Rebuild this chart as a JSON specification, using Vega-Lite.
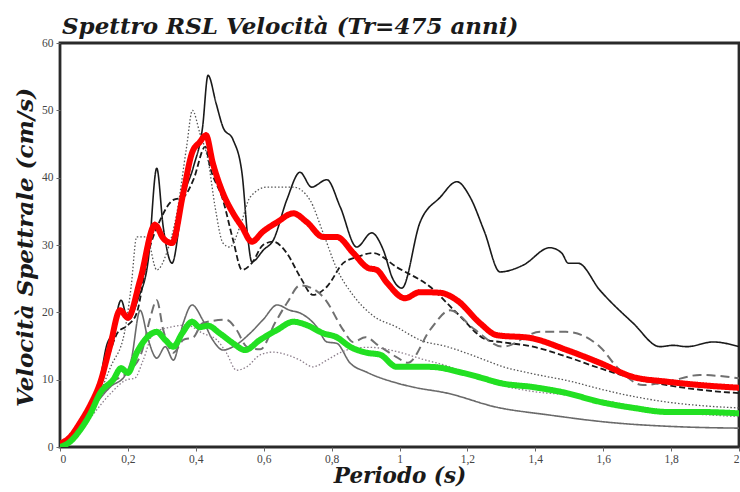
{
  "$schema": "https://vega.github.io/schema/vega-lite/v6.json",
  "autosize": {"type": "none"},
  "width": 679,
  "height": 404,
  "padding": {"left": 60, "top": 43, "right": 1, "bottom": 45},
  "background": "white",
  "title": {
    "text": "Spettro RSL Velocità (Tr=475 anni)",
    "anchor": "start",
    "frame": "group",
    "font": "DejaVu Serif",
    "fontSize": 23,
    "fontStyle": "italic",
    "fontWeight": "bold",
    "color": "#1a1a1a",
    "offset": -2,
    "dx": 2
  },
  "config": {
    "view": {"stroke": "#2a2a2a", "strokeWidth": 2.8},
    "axis": {
      "domain": false,
      "grid": false,
      "ticks": true,
      "tickColor": "#666666",
      "tickSize": 4,
      "labelFont": "Liberation Sans Narrow",
      "labelFontSize": 11.5,
      "labelColor": "#444444",
      "titleFont": "DejaVu Serif",
      "titleFontSize": 21.5,
      "titleFontStyle": "italic",
      "titleFontWeight": "bold",
      "titleColor": "#1a1a1a"
    }
  },
  "data": {
    "values": [
      {"s":"A1","x":0,"y":0},{"s":"A1","x":0.03,"y":0.8},{"s":"A1","x":0.06,"y":2.5},{"s":"A1","x":0.09,"y":5.5},{"s":"A1","x":0.118,"y":10},{"s":"A1","x":0.137,"y":15},{"s":"A1","x":0.155,"y":17},{"s":"A1","x":0.18,"y":21.8},{"s":"A1","x":0.2,"y":18.9},{"s":"A1","x":0.23,"y":22},{"s":"A1","x":0.26,"y":27.8},{"s":"A1","x":0.285,"y":41.4},{"s":"A1","x":0.304,"y":32.7},{"s":"A1","x":0.33,"y":27.3},{"s":"A1","x":0.363,"y":37},{"s":"A1","x":0.393,"y":41.6},{"s":"A1","x":0.42,"y":47.5},{"s":"A1","x":0.436,"y":55.2},{"s":"A1","x":0.46,"y":51},{"s":"A1","x":0.48,"y":47.5},{"s":"A1","x":0.51,"y":45.6},{"s":"A1","x":0.536,"y":40.7},{"s":"A1","x":0.554,"y":30.7},{"s":"A1","x":0.565,"y":27.5},{"s":"A1","x":0.6,"y":29.3},{"s":"A1","x":0.628,"y":30.7},{"s":"A1","x":0.668,"y":36.7},{"s":"A1","x":0.707,"y":40.8},{"s":"A1","x":0.741,"y":38.6},{"s":"A1","x":0.786,"y":39.7},{"s":"A1","x":0.825,"y":35.7},{"s":"A1","x":0.874,"y":29.7},{"s":"A1","x":0.918,"y":31.8},{"s":"A1","x":0.952,"y":29.3},{"s":"A1","x":0.98,"y":25},{"s":"A1","x":1.007,"y":23.6},{"s":"A1","x":1.06,"y":33.3},{"s":"A1","x":1.12,"y":37.1},{"s":"A1","x":1.169,"y":39.4},{"s":"A1","x":1.208,"y":37.1},{"s":"A1","x":1.25,"y":32},{"s":"A1","x":1.296,"y":26},{"s":"A1","x":1.364,"y":27},{"s":"A1","x":1.443,"y":29.6},{"s":"A1","x":1.478,"y":28.8},{"s":"A1","x":1.497,"y":27.3},{"s":"A1","x":1.526,"y":27.3},{"s":"A1","x":1.59,"y":23.3},{"s":"A1","x":1.688,"y":18.4},{"s":"A1","x":1.767,"y":14.9},{"s":"A1","x":1.806,"y":15.1},{"s":"A1","x":1.846,"y":14.9},{"s":"A1","x":1.924,"y":15.6},{"s":"A1","x":2.0,"y":14.9},

      {"s":"A2","x":0,"y":0},{"s":"A2","x":0.05,"y":2},{"s":"A2","x":0.1,"y":7},{"s":"A2","x":0.14,"y":13},{"s":"A2","x":0.17,"y":17},{"s":"A2","x":0.2,"y":18.1},{"s":"A2","x":0.226,"y":19.9},{"s":"A2","x":0.26,"y":28.8},{"s":"A2","x":0.295,"y":33.7},{"s":"A2","x":0.334,"y":36.7},{"s":"A2","x":0.363,"y":37.1},{"s":"A2","x":0.393,"y":39.7},{"s":"A2","x":0.428,"y":44.6},{"s":"A2","x":0.442,"y":41.6},{"s":"A2","x":0.48,"y":36.7},{"s":"A2","x":0.51,"y":30.7},{"s":"A2","x":0.536,"y":26.3},{"s":"A2","x":0.565,"y":27.3},{"s":"A2","x":0.598,"y":30},{"s":"A2","x":0.628,"y":30.5},{"s":"A2","x":0.668,"y":28.8},{"s":"A2","x":0.707,"y":25.3},{"s":"A2","x":0.745,"y":22.6},{"s":"A2","x":0.786,"y":23.8},{"s":"A2","x":0.834,"y":27.3},{"s":"A2","x":0.874,"y":28.2},{"s":"A2","x":0.922,"y":28.8},{"s":"A2","x":0.992,"y":26.7},{"s":"A2","x":1.09,"y":23.8},{"s":"A2","x":1.169,"y":19.9},{"s":"A2","x":1.258,"y":15.9},{"s":"A2","x":1.296,"y":15.6},{"s":"A2","x":1.393,"y":14.9},{"s":"A2","x":1.493,"y":13.4},{"s":"A2","x":1.59,"y":11.7},{"s":"A2","x":1.688,"y":10.2},{"s":"A2","x":1.788,"y":9.2},{"s":"A2","x":1.885,"y":8.5},{"s":"A2","x":2.0,"y":8.0},

      {"s":"A3","x":0,"y":0},{"s":"A3","x":0.05,"y":1.8},{"s":"A3","x":0.1,"y":6},{"s":"A3","x":0.15,"y":12},{"s":"A3","x":0.19,"y":17},{"s":"A3","x":0.21,"y":24},{"s":"A3","x":0.226,"y":31.2},{"s":"A3","x":0.255,"y":31.2},{"s":"A3","x":0.285,"y":26.3},{"s":"A3","x":0.314,"y":28.8},{"s":"A3","x":0.344,"y":34.7},{"s":"A3","x":0.373,"y":44.6},{"s":"A3","x":0.39,"y":50},{"s":"A3","x":0.412,"y":46.6},{"s":"A3","x":0.436,"y":42.6},{"s":"A3","x":0.457,"y":35.6},{"s":"A3","x":0.48,"y":30.3},{"s":"A3","x":0.5,"y":29.7},{"s":"A3","x":0.53,"y":32.7},{"s":"A3","x":0.56,"y":37.1},{"s":"A3","x":0.61,"y":38.6},{"s":"A3","x":0.687,"y":38.6},{"s":"A3","x":0.736,"y":36.7},{"s":"A3","x":0.775,"y":31.8},{"s":"A3","x":0.815,"y":26.5},{"s":"A3","x":0.864,"y":22.5},{"s":"A3","x":0.922,"y":19.5},{"s":"A3","x":0.992,"y":17.8},{"s":"A3","x":1.06,"y":15.9},{"s":"A3","x":1.14,"y":14.9},{"s":"A3","x":1.237,"y":13.2},{"s":"A3","x":1.3,"y":12},{"s":"A3","x":1.4,"y":10.8},{"s":"A3","x":1.5,"y":9.8},{"s":"A3","x":1.6,"y":8.5},{"s":"A3","x":1.7,"y":7.4},{"s":"A3","x":1.8,"y":6.6},{"s":"A3","x":1.9,"y":6.1},{"s":"A3","x":2.0,"y":5.8},

      {"s":"B1","x":0,"y":0},{"s":"B1","x":0.05,"y":2},{"s":"B1","x":0.1,"y":6},{"s":"B1","x":0.15,"y":9},{"s":"B1","x":0.19,"y":10.5},{"s":"B1","x":0.21,"y":13},{"s":"B1","x":0.236,"y":20.3},{"s":"B1","x":0.26,"y":15.9},{"s":"B1","x":0.285,"y":13.2},{"s":"B1","x":0.31,"y":14.9},{"s":"B1","x":0.334,"y":12.9},{"s":"B1","x":0.363,"y":18.4},{"s":"B1","x":0.389,"y":21.1},{"s":"B1","x":0.42,"y":18.9},{"s":"B1","x":0.45,"y":15.9},{"s":"B1","x":0.48,"y":14.4},{"s":"B1","x":0.51,"y":14.9},{"s":"B1","x":0.56,"y":16.9},{"s":"B1","x":0.598,"y":18.9},{"s":"B1","x":0.64,"y":21.1},{"s":"B1","x":0.677,"y":20.3},{"s":"B1","x":0.707,"y":19.9},{"s":"B1","x":0.757,"y":17.8},{"s":"B1","x":0.786,"y":15.6},{"s":"B1","x":0.815,"y":15.4},{"s":"B1","x":0.854,"y":12.5},{"s":"B1","x":0.904,"y":11.1},{"s":"B1","x":0.992,"y":9.5},{"s":"B1","x":1.04,"y":8.9},{"s":"B1","x":1.14,"y":8.0},{"s":"B1","x":1.287,"y":5.9},{"s":"B1","x":1.434,"y":4.8},{"s":"B1","x":1.63,"y":3.6},{"s":"B1","x":1.826,"y":3.0},{"s":"B1","x":2.0,"y":2.8},

      {"s":"B2","x":0,"y":0},{"s":"B2","x":0.05,"y":1.8},{"s":"B2","x":0.1,"y":6},{"s":"B2","x":0.15,"y":9.5},{"s":"B2","x":0.197,"y":11},{"s":"B2","x":0.24,"y":14},{"s":"B2","x":0.265,"y":19},{"s":"B2","x":0.285,"y":21.8},{"s":"B2","x":0.304,"y":17.4},{"s":"B2","x":0.334,"y":14},{"s":"B2","x":0.363,"y":15.9},{"s":"B2","x":0.393,"y":16.3},{"s":"B2","x":0.42,"y":18.4},{"s":"B2","x":0.49,"y":18.9},{"s":"B2","x":0.52,"y":17.4},{"s":"B2","x":0.55,"y":14.9},{"s":"B2","x":0.59,"y":14.5},{"s":"B2","x":0.633,"y":18.4},{"s":"B2","x":0.67,"y":21.5},{"s":"B2","x":0.707,"y":24},{"s":"B2","x":0.745,"y":23.5},{"s":"B2","x":0.78,"y":22},{"s":"B2","x":0.834,"y":17.4},{"s":"B2","x":0.863,"y":15.6},{"s":"B2","x":0.9,"y":16.3},{"s":"B2","x":0.94,"y":15},{"s":"B2","x":0.99,"y":13.4},{"s":"B2","x":1.025,"y":12.5},{"s":"B2","x":1.09,"y":17.4},{"s":"B2","x":1.149,"y":20.3},{"s":"B2","x":1.22,"y":17.5},{"s":"B2","x":1.305,"y":14.9},{"s":"B2","x":1.414,"y":17.1},{"s":"B2","x":1.49,"y":17.1},{"s":"B2","x":1.59,"y":14.9},{"s":"B2","x":1.64,"y":11.9},{"s":"B2","x":1.717,"y":9.2},{"s":"B2","x":1.79,"y":9.7},{"s":"B2","x":1.885,"y":10.7},{"s":"B2","x":2.0,"y":10.2},

      {"s":"B3","x":0,"y":0},{"s":"B3","x":0.05,"y":1.5},{"s":"B3","x":0.1,"y":5},{"s":"B3","x":0.15,"y":8},{"s":"B3","x":0.197,"y":10},{"s":"B3","x":0.22,"y":10.2},{"s":"B3","x":0.245,"y":12.9},{"s":"B3","x":0.275,"y":16.9},{"s":"B3","x":0.324,"y":17.8},{"s":"B3","x":0.373,"y":18.1},{"s":"B3","x":0.42,"y":16.9},{"s":"B3","x":0.462,"y":15.9},{"s":"B3","x":0.49,"y":14},{"s":"B3","x":0.52,"y":11.4},{"s":"B3","x":0.55,"y":11.9},{"s":"B3","x":0.59,"y":13.7},{"s":"B3","x":0.628,"y":14.1},{"s":"B3","x":0.668,"y":13.7},{"s":"B3","x":0.707,"y":12.9},{"s":"B3","x":0.745,"y":11.9},{"s":"B3","x":0.786,"y":12.9},{"s":"B3","x":0.825,"y":14},{"s":"B3","x":0.87,"y":14.7},{"s":"B3","x":0.913,"y":14.8},{"s":"B3","x":0.99,"y":14.2},{"s":"B3","x":1.07,"y":13},{"s":"B3","x":1.149,"y":11.9},{"s":"B3","x":1.2,"y":10.8},{"s":"B3","x":1.296,"y":9.2},{"s":"B3","x":1.4,"y":8.2},{"s":"B3","x":1.5,"y":7.7},{"s":"B3","x":1.59,"y":7},{"s":"B3","x":1.7,"y":6},{"s":"B3","x":1.79,"y":5.2},{"s":"B3","x":1.9,"y":4.8},{"s":"B3","x":2.0,"y":4.5},

      {"s":"MA","x":0,"y":0.5},{"s":"MA","x":0.03,"y":1.5},{"s":"MA","x":0.059,"y":3.6},{"s":"MA","x":0.09,"y":6.3},{"s":"MA","x":0.118,"y":9.5},{"s":"MA","x":0.147,"y":14.9},{"s":"MA","x":0.177,"y":20.3},{"s":"MA","x":0.2,"y":19.2},{"s":"MA","x":0.236,"y":24.8},{"s":"MA","x":0.28,"y":33},{"s":"MA","x":0.304,"y":31},{"s":"MA","x":0.33,"y":30.3},{"s":"MA","x":0.363,"y":37.7},{"s":"MA","x":0.389,"y":43.7},{"s":"MA","x":0.412,"y":45.3},{"s":"MA","x":0.43,"y":46.3},{"s":"MA","x":0.45,"y":42.2},{"s":"MA","x":0.48,"y":37.7},{"s":"MA","x":0.51,"y":34.7},{"s":"MA","x":0.536,"y":32.7},{"s":"MA","x":0.565,"y":30.5},{"s":"MA","x":0.598,"y":32},{"s":"MA","x":0.64,"y":33.4},{"s":"MA","x":0.687,"y":34.7},{"s":"MA","x":0.727,"y":33.4},{"s":"MA","x":0.775,"y":31.2},{"s":"MA","x":0.815,"y":31.2},{"s":"MA","x":0.864,"y":28.8},{"s":"MA","x":0.907,"y":26.6},{"s":"MA","x":0.933,"y":26.3},{"s":"MA","x":0.963,"y":24.4},{"s":"MA","x":1.016,"y":22.1},{"s":"MA","x":1.06,"y":23.0},{"s":"MA","x":1.12,"y":22.9},{"s":"MA","x":1.169,"y":21.8},{"s":"MA","x":1.237,"y":18.4},{"s":"MA","x":1.287,"y":16.6},{"s":"MA","x":1.384,"y":16.2},{"s":"MA","x":1.493,"y":14.4},{"s":"MA","x":1.59,"y":12.5},{"s":"MA","x":1.688,"y":10.4},{"s":"MA","x":1.788,"y":9.7},{"s":"MA","x":1.885,"y":9.2},{"s":"MA","x":2.0,"y":8.8},

      {"s":"MB","x":0,"y":0},{"s":"MB","x":0.03,"y":0.8},{"s":"MB","x":0.059,"y":2.5},{"s":"MB","x":0.09,"y":5},{"s":"MB","x":0.118,"y":8},{"s":"MB","x":0.157,"y":10},{"s":"MB","x":0.18,"y":11.7},{"s":"MB","x":0.2,"y":11},{"s":"MB","x":0.226,"y":14},{"s":"MB","x":0.25,"y":15.9},{"s":"MB","x":0.285,"y":17.1},{"s":"MB","x":0.31,"y":15.9},{"s":"MB","x":0.334,"y":14.9},{"s":"MB","x":0.36,"y":16.9},{"s":"MB","x":0.389,"y":18.6},{"s":"MB","x":0.412,"y":17.8},{"s":"MB","x":0.436,"y":18},{"s":"MB","x":0.47,"y":16.9},{"s":"MB","x":0.51,"y":15.4},{"s":"MB","x":0.545,"y":14.4},{"s":"MB","x":0.589,"y":15.9},{"s":"MB","x":0.64,"y":17.4},{"s":"MB","x":0.687,"y":18.6},{"s":"MB","x":0.727,"y":18.1},{"s":"MB","x":0.775,"y":16.9},{"s":"MB","x":0.815,"y":16.3},{"s":"MB","x":0.854,"y":14.9},{"s":"MB","x":0.904,"y":14},{"s":"MB","x":0.943,"y":13.7},{"s":"MB","x":0.992,"y":11.9},{"s":"MB","x":1.09,"y":11.9},{"s":"MB","x":1.187,"y":11},{"s":"MB","x":1.24,"y":10.3},{"s":"MB","x":1.296,"y":9.5},{"s":"MB","x":1.393,"y":8.9},{"s":"MB","x":1.493,"y":8},{"s":"MB","x":1.59,"y":6.7},{"s":"MB","x":1.69,"y":5.8},{"s":"MB","x":1.79,"y":5.2},{"s":"MB","x":1.885,"y":5.2},{"s":"MB","x":2.0,"y":5.0}
    ]
  },
  "encoding": {
    "x": {
      "field": "x", "type": "quantitative",
      "scale": {"domain": [0, 2], "nice": false, "zero": false},
      "axis": {
        "title": "Periodo (s)",
        "values": [0, 0.2, 0.4, 0.6, 0.8, 1, 1.2, 1.4, 1.6, 1.8, 2],
        "labelExpr": "replace(toString(datum.value), '.', ',')",
        "labelPadding": 2,
        "titlePadding": 1
      }
    },
    "y": {
      "field": "y", "type": "quantitative",
      "scale": {"domain": [0, 60], "nice": false},
      "axis": {
        "title": "Velocità Spettrale (cm/s)",
        "values": [0, 10, 20, 30, 40, 50, 60],
        "labelPadding": 3,
        "titleX": -35,
        "titleY": 204,
        "titleAngle": -90,
        "titleAlign": "center",
        "titleBaseline": "middle",
        "titleFontSize": 23
      }
    },
    "color": {
      "field": "s", "type": "nominal", "legend": null,
      "scale": {
        "domain": ["A1", "A2", "A3", "B1", "B2", "B3", "MA", "MB"],
        "range": ["#1a1a1a", "#1a1a1a", "#555555", "#6a6a6a", "#707070", "#8c7f8c", "#ff0000", "#22e022"]
      }
    },
    "strokeDash": {
      "field": "s", "type": "nominal", "legend": null,
      "scale": {
        "domain": ["A1", "A2", "A3", "B1", "B2", "B3", "MA", "MB"],
        "range": [[1, 0], [6, 3], [1.5, 2], [1, 0], [9, 5], [1.5, 2], [1, 0], [1, 0]]
      }
    },
    "strokeWidth": {
      "field": "s", "type": "nominal", "legend": null,
      "scale": {
        "type": "ordinal",
        "domain": ["A1", "A2", "A3", "B1", "B2", "B3", "MA", "MB"],
        "range": [1.6, 1.8, 1.3, 1.6, 2, 1.3, 6, 6]
      }
    }
  },
  "layer": [
    {
      "transform": [{"filter": "datum.s != 'MA' && datum.s != 'MB'"}],
      "mark": {"type": "line", "interpolate": "monotone", "clip": true}
    },
    {
      "transform": [{"filter": "datum.s == 'MA' || datum.s == 'MB'"}],
      "mark": {"type": "line", "interpolate": "monotone", "clip": true, "strokeCap": "round", "strokeJoin": "round"}
    }
  ]
}
